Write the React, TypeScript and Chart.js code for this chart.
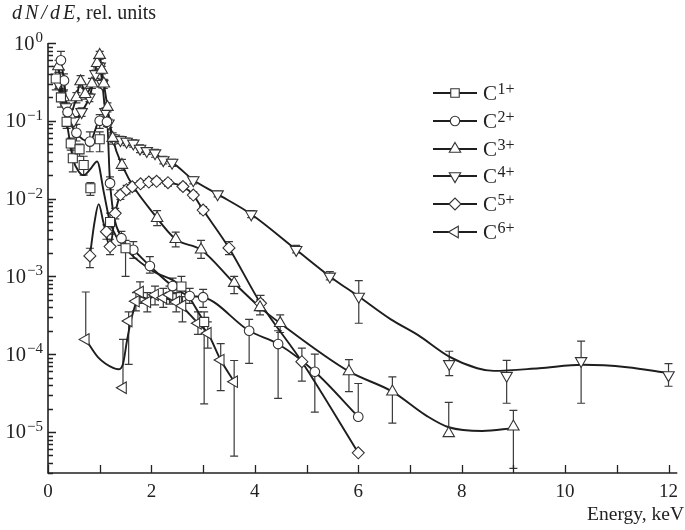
import React, { useEffect, useRef } from 'react';
import { Chart, registerables } from 'chart.js';

Chart.register(...registerables);

// ---------- data (energy in keV, dN/dE in rel. units) ----------
// C1+ (squares)
const c1E = [0.15, 0.25, 0.36, 0.44, 0.48, 0.61, 0.69, 0.82, 1.0, 1.2, 1.5, 2.58, 3.02];
const c1V = [0.35, 0.2, 0.097, 0.051, 0.033, 0.043, 0.027, 0.0136, 0.058, 0.005, 0.0023, 0.00074, 0.00026];
const c1Err = [[0.25, 0.5], [0.15, 0.26], [0.08, 0.12], [0.042, 0.06], [0.022, 0.045], [0.035, 0.05], [0.02, 0.035], [0.011, 0.016], [0.04, 0.072], [0.0035, 0.0065], [0.001, 0.0029], [0.00045, 0.001], [2.3e-5, 0.00035]];
const c1CurveE = [0.15, 0.25, 0.36, 0.48, 0.6, 0.69, 0.82, 0.95, 1.08, 1.2, 1.5, 2.0, 2.58, 3.02];
const c1CurveV = [0.35, 0.2, 0.097, 0.033, 0.022, 0.02, 0.024, 0.03, 0.012, 0.005, 0.0023, 0.0012, 0.00074, 0.00026];

// C2+ (circles)
const c2E = [0.25, 0.31, 0.38, 0.55, 0.81, 1.0, 1.14, 1.2, 1.42, 1.65, 1.97, 2.41, 2.74, 3.0, 3.89, 4.45, 5.16, 6.0];
const c2V = [0.6, 0.33, 0.13, 0.07, 0.054, 0.1, 0.097, 0.0158, 0.0031, 0.0022, 0.00136, 0.00075, 0.00056, 0.00054, 0.0002, 0.000135, 5.95e-5, 1.57e-5];
const c2Err = [[0.45, 0.78], [0.25, 0.4], [0.1, 0.16], [0.055, 0.09], [0.04, 0.072], [0.08, 0.12], [0.085, 0.11], [0.013, 0.019], [0.0025, 0.0038], [0.0017, 0.0028], [0.0011, 0.0018], [0.0006, 0.00095], [0.00045, 0.0007], [0.0004, 0.00068], [7.6e-5, 0.00028], [2.7e-5, 0.0002], [1.8e-5, 0.0001], [null, 4.2e-5]];
const c2CurveE = [0.25, 0.31, 0.38, 0.55, 0.81, 1.0, 1.14, 1.2, 1.42, 1.65, 1.97, 2.41, 2.74, 3.0, 3.89, 4.45, 5.16, 6.0];
const c2CurveV = [0.6, 0.33, 0.13, 0.07, 0.054, 0.1, 0.097, 0.0158, 0.0031, 0.0022, 0.00136, 0.00075, 0.00056, 0.00054, 0.0002, 0.000135, 5.95e-5, 1.57e-5];

// C3+ (up triangles)
const c3E = [0.2, 0.3, 0.42, 0.55, 0.63, 0.72, 0.85, 0.95, 1.0, 1.04, 1.08, 1.15, 1.25, 1.43, 2.11, 2.47, 2.96, 3.6, 4.1, 4.49, 5.82, 6.66, 7.75, 9.0];
const c3V = [0.5, 0.2, 0.12, 0.2, 0.32, 0.22, 0.3, 0.55, 0.7, 0.45, 0.3, 0.15, 0.06, 0.027, 0.0056, 0.003, 0.0022, 0.00082, 0.0004, 0.00025, 6e-5, 3.3e-5, 9.6e-6, 1.17e-5];
const c3Err = [[0.42, 0.6], [0.17, 0.24], [0.1, 0.14], [0.17, 0.23], [0.27, 0.38], [0.19, 0.26], [0.26, 0.35], [0.48, 0.63], [0.62, 0.78], [0.4, 0.5], [0.26, 0.34], [0.13, 0.17], [0.05, 0.07], [0.023, 0.032], [0.0045, 0.007], [0.0024, 0.0037], [0.0017, 0.0029], [0.0006, 0.001], [0.00032, 0.0005], [0.00019, 0.00032], [3.3e-5, 8.5e-5], [1.3e-5, 5.1e-5], [null, 2.4e-5], [3.4e-6, 1.9e-5]];
const c3CurveE = [0.2, 0.3, 0.42, 0.55, 0.63, 0.72, 0.85, 0.95, 1.0, 1.04, 1.08, 1.15, 1.25, 1.43, 2.11, 2.47, 2.96, 3.6, 4.1, 4.49, 5.82, 6.66, 7.33, 7.75, 8.4, 9.0];
const c3CurveV = [0.5, 0.2, 0.12, 0.2, 0.32, 0.22, 0.3, 0.55, 0.7, 0.45, 0.3, 0.15, 0.06, 0.027, 0.0056, 0.003, 0.0022, 0.00082, 0.0004, 0.00025, 6e-5, 3.3e-5, 1.6e-5, 1.15e-5, 1.03e-5, 1.12e-5];

// C4+ (down triangles)
const c4E = [0.2, 0.35, 0.5, 0.65, 0.8, 0.92, 1.0, 1.05, 1.11, 1.17, 1.27, 1.4, 1.52, 1.65, 1.78, 1.91, 2.07, 2.23, 2.4, 2.81, 3.28, 3.93, 4.8, 5.45, 6.01, 7.76, 8.87, 10.31, 12.0];
const c4V = [0.3, 0.15, 0.1, 0.13, 0.2, 0.4, 0.5, 0.3, 0.13, 0.093, 0.0595, 0.0567, 0.054, 0.0512, 0.044, 0.041, 0.0384, 0.0313, 0.029, 0.0173, 0.0114, 0.0063, 0.0022, 0.001, 0.00055, 7.5e-5, 5.3e-5, 8.2e-5, 5.4e-5];
const c4Err = [[0.26, 0.35], [0.13, 0.17], [0.088, 0.113], [0.114, 0.147], [0.176, 0.226], [0.35, 0.45], [0.44, 0.56], [0.265, 0.34], [0.115, 0.147], [0.082, 0.105], [0.053, 0.066], [0.051, 0.063], [0.048, 0.06], [0.046, 0.057], [0.039, 0.049], [0.037, 0.045], [0.034, 0.043], [0.028, 0.035], [0.026, 0.032], [0.0155, 0.019], [0.0105, 0.0125], [0.0057, 0.007], [0.002, 0.0025], [0.0009, 0.00115], [0.00025, 0.00088], [5.3e-5, 0.000109], [2.34e-5, 8.35e-5], [2.34e-5, 0.000147], [3.87e-5, 7.55e-5]];
const c4CurveE = [0.2, 0.35, 0.5, 0.65, 0.8, 0.92, 1.0, 1.05, 1.11, 1.17, 1.27, 1.4, 1.52, 1.65, 1.78, 1.91, 2.07, 2.23, 2.4, 2.81, 3.28, 3.93, 4.8, 5.45, 6.01, 6.63, 7.15, 7.76, 8.3, 8.62, 9.5, 10.34, 11.2, 12.0];
const c4CurveV = [0.3, 0.15, 0.1, 0.13, 0.2, 0.4, 0.5, 0.3, 0.13, 0.093, 0.0595, 0.0567, 0.054, 0.0512, 0.044, 0.041, 0.0384, 0.0313, 0.029, 0.0173, 0.0114, 0.0063, 0.0022, 0.001, 0.00055, 0.00028, 0.000177, 9.3e-5, 6.6e-5, 6.1e-5, 6.6e-5, 7.3e-5, 6.8e-5, 5.7e-5];

// C5+ (diamonds)
const c5E = [0.81, 1.13, 1.2, 1.3, 1.4, 1.52, 1.63, 1.79, 1.95, 2.1, 2.32, 2.61, 2.81, 3.0, 3.5, 4.11, 4.91, 6.0];
const c5V = [0.00183, 0.00376, 0.00242, 0.00647, 0.0112, 0.013, 0.0142, 0.0155, 0.0163, 0.0167, 0.016, 0.0143, 0.0111, 0.00713, 0.00232, 0.000451, 8.0e-5, 5.4e-6];
const c5Err = [[0.0013, 0.0023], [0.003, 0.0046], [0.0019, 0.003], [0.0055, 0.0075], [0.0098, 0.0128], [0.0115, 0.0148], [0.0125, 0.016], [0.014, 0.017], [0.0148, 0.018], [0.0152, 0.0183], [0.0145, 0.0176], [0.013, 0.0157], [0.0101, 0.0122], [0.0064, 0.0079], [0.0019, 0.0028], [0.00036, 0.00057], [4.5e-5, 0.00012], [null, null]];
const c5CurveE = [0.81, 0.9, 0.98, 1.07, 1.2, 1.3, 1.4, 1.52, 1.63, 1.79, 1.95, 2.1, 2.32, 2.61, 2.81, 3.0, 3.5, 4.11, 4.91, 6.0];
const c5CurveV = [0.00183, 0.005, 0.0085, 0.005, 0.00242, 0.00647, 0.0112, 0.013, 0.0142, 0.0155, 0.0163, 0.0167, 0.016, 0.0143, 0.0111, 0.00713, 0.00232, 0.000451, 8.0e-5, 5.4e-6];

// C6+ (left triangles)
const c6E = [0.73, 1.45, 1.56, 1.7, 1.78, 1.92, 2.07, 2.23, 2.35, 2.48, 2.6, 2.9, 3.09, 3.34, 3.6];
const c6V = [0.000155, 3.7e-5, 0.000267, 0.00048, 0.00063, 0.00047, 0.00058, 0.00053, 0.00058, 0.00047, 0.00042, 0.00025, 0.000186, 8.4e-5, 4.43e-5];
const c6Err = [[null, 0.00063], [null, 0.000155], [7.4e-5, 0.00035], [0.00036, 0.00062], [0.00045, 0.00085], [0.00035, 0.00062], [0.00043, 0.00075], [0.0004, 0.0007], [0.00044, 0.00075], [0.00035, 0.00062], [0.00026, 0.00055], [0.00018, 0.00035], [0.00012, 0.00026], [3.4e-5, 0.000137], [4.9e-6, 8.3e-5]];
const c6CurveE = [0.73, 0.97, 1.27, 1.36, 1.45, 1.53, 1.62, 1.78, 1.92, 2.07, 2.23, 2.48, 2.9, 3.09, 3.34, 3.6];
const c6CurveV = [0.000155, 9.1e-5, 6.6e-5, 6.4e-5, 7.5e-5, 0.000152, 0.0003, 0.00055, 0.00052, 0.00055, 0.00053, 0.00047, 0.00025, 0.000186, 8.4e-5, 4.43e-5];

// ---------- axes / labels ----------
const X_MIN = 0;
const X_MAX = 12.17;
const Y_MIN = 2.97e-6;
const Y_MAX = 1;
const xMajorTicks = [0, 2, 4, 6, 8, 10, 12];
const xMinorTicks = [1, 3, 5, 7, 9, 11];
const yDecades = [0, -1, -2, -3, -4, -5];
const yExpLabels = ['0', '\u22121', '\u22122', '\u22123', '\u22124', '\u22125'];
const legendCharges = ['1+', '2+', '3+', '4+', '5+', '6+'];
const yTitleItalic = 'dN/dE';
const yTitleRest = ', rel. units';
const xTitle = 'Energy, keV';

const SERIF = '"Liberation Serif", "DejaVu Serif", "Times New Roman", serif';
const LINE_COLOR = '#1e1e1e';
const MARK_COLOR = '#333';

type Series = {
  E: number[]; V: number[]; err: (number | null)[][];
  cE: number[]; cV: number[];
  style: string; rot: number; r: number; lr: number;
};

const SERIES: Series[] = [
  { E: c1E, V: c1V, err: c1Err, cE: c1CurveE, cV: c1CurveV, style: 'rect', rot: 0, r: 6.4, lr: 6.0 },
  { E: c2E, V: c2V, err: c2Err, cE: c2CurveE, cV: c2CurveV, style: 'circle', rot: 0, r: 4.8, lr: 4.7 },
  { E: c3E, V: c3V, err: c3Err, cE: c3CurveE, cV: c3CurveV, style: 'triangle', rot: 0, r: 6.6, lr: 6.6 },
  { E: c4E, V: c4V, err: c4Err, cE: c4CurveE, cV: c4CurveV, style: 'triangle', rot: 180, r: 6.6, lr: 6.6 },
  { E: c5E, V: c5V, err: c5Err, cE: c5CurveE, cV: c5CurveV, style: 'rectRot', rot: 0, r: 6.0, lr: 6.0 },
  { E: c6E, V: c6V, err: c6Err, cE: c6CurveE, cV: c6CurveV, style: 'triangle', rot: 270, r: 6.6, lr: 6.6 },
];

function drawMarker(ctx: CanvasRenderingContext2D, style: string, rot: number, x: number, y: number, r: number) {
  ctx.beginPath();
  if (style === 'circle') {
    ctx.arc(x, y, r, 0, Math.PI * 2);
  } else if (style === 'rect') {
    const s = r * Math.SQRT1_2;
    ctx.rect(x - s, y - s, 2 * s, 2 * s);
  } else if (style === 'rectRot') {
    ctx.moveTo(x - r, y);
    ctx.lineTo(x, y - r);
    ctx.lineTo(x + r, y);
    ctx.lineTo(x, y + r);
  } else {
    let rad = (rot * Math.PI) / 180;
    ctx.moveTo(x + Math.sin(rad) * r, y - Math.cos(rad) * r);
    for (let k = 0; k < 2; k++) {
      rad += (2 * Math.PI) / 3;
      ctx.lineTo(x + Math.sin(rad) * r, y - Math.cos(rad) * r);
    }
  }
  ctx.closePath();
  ctx.fillStyle = '#fff';
  ctx.fill();
  ctx.stroke();
}

const errorBarPlugin = {
  id: 'errorBars',
  beforeDatasetsDraw(chart: any) {
    const { ctx, scales } = chart;
    const x = scales.x;
    const y = scales.y;
    ctx.save();
    ctx.strokeStyle = '#3a3a3a';
    ctx.lineWidth = 1.2;
    const cap = 4;
    SERIES.forEach((s) => {
      s.E.forEach((e, i) => {
        const pair = s.err[i] || [null, null];
        const px = x.getPixelForValue(e);
        const py = y.getPixelForValue(s.V[i]);
        [pair[0], pair[1]].forEach((v) => {
          if (v == null) return;
          const pv = y.getPixelForValue(v);
          ctx.beginPath();
          ctx.moveTo(px, py);
          ctx.lineTo(px, pv);
          ctx.moveTo(px - cap, pv);
          ctx.lineTo(px + cap, pv);
          ctx.stroke();
        });
      });
    });
    ctx.restore();
  },
};

function drawPowerLabel(ctx: CanvasRenderingContext2D, base: string, exp: string, right: number, baseY: number, baseSize: number, expSize: number, expRaise: number) {
  ctx.font = `${expSize}px ${SERIF}`;
  const ew = ctx.measureText(exp).width;
  ctx.font = `${baseSize}px ${SERIF}`;
  const bw = ctx.measureText(base).width;
  ctx.textAlign = 'left';
  ctx.textBaseline = 'alphabetic';
  ctx.fillText(base, right - ew - bw - 1, baseY);
  ctx.font = `${expSize}px ${SERIF}`;
  ctx.fillText(exp, right - ew, baseY - expRaise);
}

const axesPlugin = {
  id: 'axesDecor',
  afterDraw(chart: any) {
    const { ctx, chartArea: a, scales } = chart;
    const x = scales.x;
    const y = scales.y;
    ctx.save();
    ctx.strokeStyle = '#222';
    ctx.fillStyle = '#222';
    // axis lines
    ctx.lineWidth = 1.6;
    ctx.beginPath();
    ctx.moveTo(a.left, a.top);
    ctx.lineTo(a.left, a.bottom);
    ctx.lineTo(a.right, a.bottom);
    ctx.stroke();
    // x ticks
    ctx.lineWidth = 1.3;
    ctx.beginPath();
    [...xMajorTicks, ...xMinorTicks].forEach((v) => {
      const px = Math.round(x.getPixelForValue(v)) + 0.5;
      ctx.moveTo(px, a.bottom);
      ctx.lineTo(px, a.bottom - 8);
    });
    ctx.stroke();
    // y ticks
    ctx.beginPath();
    for (let d = -6; d <= 0; d++) {
      for (let m = 1; m <= 9; m++) {
        const v = m * Math.pow(10, d);
        if (v < Y_MIN * 0.999 || v > Y_MAX * 1.001) continue;
        const py = Math.round(y.getPixelForValue(v)) + 0.5;
        ctx.moveTo(a.left, py);
        ctx.lineTo(a.left + (m === 1 ? 8 : 5), py);
      }
    }
    ctx.stroke();
    // x labels
    ctx.font = `19px ${SERIF}`;
    ctx.textAlign = 'center';
    ctx.textBaseline = 'alphabetic';
    xMajorTicks.forEach((v) => {
      ctx.fillText(String(v), x.getPixelForValue(v), 497);
    });
    // y labels
    yDecades.forEach((d, i) => {
      const py = y.getPixelForValue(Math.pow(10, d));
      drawPowerLabel(ctx, '10', yExpLabels[i], 43, py + 6.5, 20.5, 15, 7.5);
    });
    // axis titles
    ctx.textAlign = 'left';
    ctx.font = `italic 20px ${SERIF}`;
    (ctx as any).letterSpacing = '3px';
    ctx.fillText(yTitleItalic, 12, 19);
    const iw = ctx.measureText(yTitleItalic).width;
    (ctx as any).letterSpacing = '0px';
    ctx.font = `20px ${SERIF}`;
    ctx.fillText(yTitleRest, 12 + iw - 2, 19);
    ctx.textAlign = 'right';
    ctx.font = `19.5px ${SERIF}`;
    ctx.fillText(xTitle, 684, 520);

    // legend
    const rows = [93, 121, 149, 176, 204, 232];
    SERIES.forEach((s, i) => {
      const ly = rows[i];
      ctx.strokeStyle = LINE_COLOR;
      ctx.lineWidth = 1.9;
      ctx.beginPath();
      ctx.moveTo(433, ly);
      ctx.lineTo(477, ly);
      ctx.stroke();
      ctx.strokeStyle = MARK_COLOR;
      ctx.lineWidth = 1.1;
      drawMarker(ctx, s.style, s.rot, 455, ly, s.lr);
      ctx.fillStyle = '#222';
      ctx.textAlign = 'left';
      ctx.font = `21px ${SERIF}`;
      ctx.fillText('C', 483, ly + 7);
      const cw = ctx.measureText('C').width;
      ctx.font = `16px ${SERIF}`;
      ctx.fillText(legendCharges[i], 483 + cw + 0.5, ly + 0.5);
    });
    ctx.restore();
  },
};

export default function App() {
  const canvasRef = useRef<HTMLCanvasElement | null>(null);

  useEffect(() => {
    document.body.style.margin = '0';
    const canvas = canvasRef.current;
    if (!canvas) return;
    const datasets: any[] = [];
    SERIES.forEach((s) => {
      datasets.push({
        data: s.cE.map((e, j) => ({ x: e, y: s.cV[j] })),
        showLine: true,
        borderColor: LINE_COLOR,
        borderWidth: 1.9,
        pointRadius: 0,
        pointHoverRadius: 0,
        cubicInterpolationMode: 'monotone',
        fill: false,
        order: 10,
      });
    });
    SERIES.forEach((s) => {
      datasets.push({
        data: s.E.map((e, j) => ({ x: e, y: s.V[j] })),
        showLine: false,
        pointStyle: s.style,
        rotation: s.rot,
        pointRadius: s.r,
        pointHoverRadius: s.r,
        pointBackgroundColor: '#ffffff',
        pointBorderColor: MARK_COLOR,
        pointBorderWidth: 1.1,
        order: 1,
      });
    });
    const chart = new Chart(canvas, {
      type: 'scatter',
      data: { datasets },
      options: {
        animation: false,
        responsive: false,
        devicePixelRatio: 1,
        events: [],
        layout: { padding: { left: 48, right: 2, top: 43, bottom: 57 } },
        plugins: { legend: { display: false }, tooltip: { enabled: false } },
        scales: {
          x: { type: 'linear', display: false, min: X_MIN, max: X_MAX, bounds: 'data' },
          y: { type: 'logarithmic', display: false, min: Y_MIN, max: Y_MAX, bounds: 'data' },
        },
      } as any,
      plugins: [errorBarPlugin, axesPlugin],
    });
    return () => chart.destroy();
  }, []);

  return (
    <div style={{ position: 'fixed', left: 0, top: 0, width: 685, height: 530, background: '#fff' }}>
      <canvas ref={canvasRef} width={685} height={530} style={{ display: 'block' }} />
    </div>
  );
}
